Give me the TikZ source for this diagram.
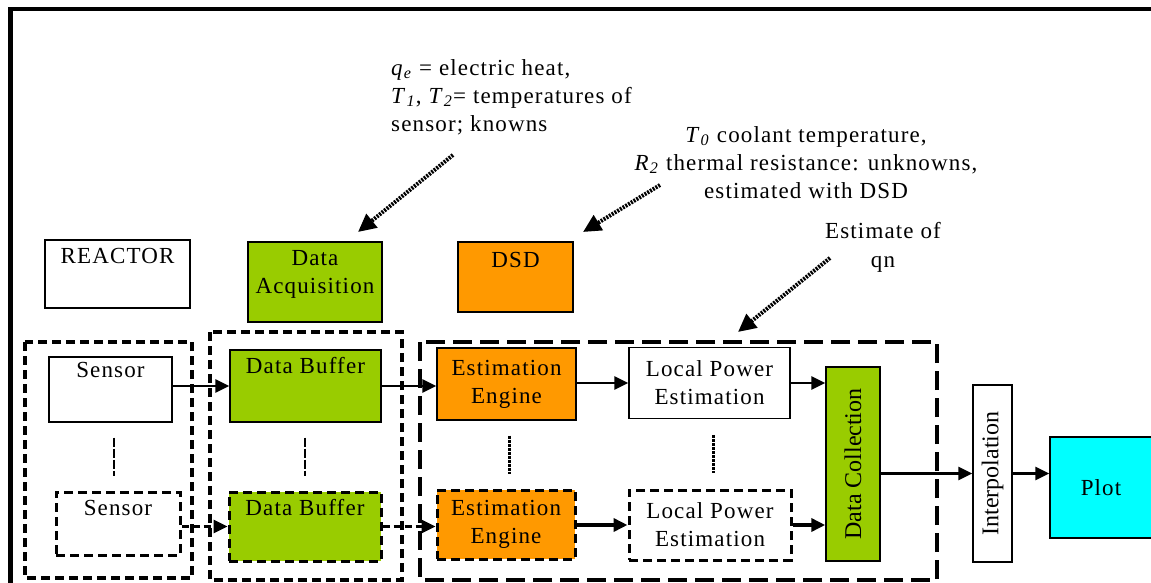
\documentclass[tikz,border=0pt]{standalone}
\usepackage{fontspec}
\setmainfont{Liberation Serif}[LetterSpace=5]
\usepackage{tikz}
\usetikzlibrary{shapes,arrows.meta,positioning,calc}

\definecolor{dgreen}{HTML}{99CC00}
\definecolor{dorange}{HTML}{FF9900}
\definecolor{dcyan}{HTML}{00FFFF}
\newcommand{\vari}[2]{\textit{#1}\textsubscript{\textit{#2}}}

\begin{document}
\begin{tikzpicture}[x=1pt,y=-1pt,
  every node/.style={font=\fontsize{23}{28}\selectfont,align=center,inner sep=3pt},
  box/.style={draw,line width=1.5pt},
  dbox/.style={draw,line width=3pt,dash pattern=on 9pt off 5pt},
  grp/.style={draw,line width=3.5pt,dash pattern=on 9pt off 5pt},
  biggrp/.style={draw,line width=3.5pt,dash pattern=on 19pt off 8pt},
  arr/.style={line width=2.8pt,-{Triangle[length=14pt,width=13pt]}},
  darr/.style={arr,line width=3pt,dash pattern=on 7pt off 4pt},
  vgap/.style={line width=2.2pt,dash pattern=on 9pt off 2pt},
  noteArr/.style={line width=4pt,dash pattern=on 2pt off 1.2pt,-{Triangle[length=18pt,width=17pt]}},
  note/.style={inner sep=0pt}]
\useasboundingbox (0,0) rectangle (1151,583);

% frame
\draw[line width=4.5pt] (10.5,583) -- (10.5,9) -- (1151,9);

% groups
\draw[grp] (25,342) rectangle (192,578);
\draw[grp] (210,332) rectangle (402,580);
\draw[biggrp] (420,342) rectangle (937,580);

% top row
\node[box,minimum width=145pt,minimum height=68pt,text height=20pt,text depth=42pt] (reactor) at (117.5,274) {REACTOR};
\node[box,fill=dgreen,minimum width=134pt,minimum height=80pt,text height=48pt,text depth=26pt] (daq) at (315,282) {Data\\Acquisition};
\node[box,fill=dorange,minimum width=115pt,minimum height=70pt,text height=22pt,text depth=42pt] (dsd) at (515.5,277) {DSD};

% first channel
\node[box,minimum width=123pt,minimum height=65pt,text height=17pt,text depth=42pt] (sensorA) at (110.5,389.5) {Sensor};
\node[box,fill=dgreen,minimum width=151pt,minimum height=72pt,text height=20pt,text depth=46pt] (bufA) at (305.5,386) {Data Buffer};
\node[box,fill=dorange,minimum width=139pt,minimum height=72pt] (engA) at (506.5,384) {Estimation\\Engine};
\node[box,minimum width=161pt,minimum height=71pt] (lpeA) at (709.5,383) {Local Power\\Estimation};

% last channel
\node[dbox,minimum width=124pt,minimum height=63pt,text height=20pt,text depth=37pt] (sensorB) at (118,523.5) {Sensor};
\node[dbox,fill=dgreen,minimum width=152pt,minimum height=69pt,text height=20pt,text depth=43pt] (bufB) at (305,526.5) {Data Buffer};
\node[dbox,fill=dorange,minimum width=138pt,minimum height=69pt] (engB) at (506,524.5) {Estimation\\Engine};
\node[dbox,minimum width=162pt,minimum height=70pt] (lpeB) at (710,525) {Local Power\\Estimation};

% collection and output
\node[box,fill=dgreen,rotate=90,minimum width=194pt,minimum height=54pt,font=\fontsize{24}{28}\selectfont\addfontfeature{LetterSpace=0}] (dcol) at (853,464) {Data Collection};
\node[box,rotate=90,minimum width=177pt,minimum height=39pt,font=\fontsize{24}{28}\selectfont\addfontfeature{LetterSpace=0}] (interp) at (992.5,473.5) {Interpolation};
\node[box,fill=dcyan,minimum width=102pt,minimum height=101pt] (plot) at (1101,487.5) {Plot};

% connectors
\draw[arr] (sensorA.east |- bufA) -- (bufA.west);
\draw[arr] (bufA.east) -- (bufA.east -| engA.west);
\draw[arr] (engA.east |- lpeA) -- (lpeA.west);
\draw[arr] (lpeA.east) -- (lpeA.east -| dcol.north);
\draw[darr] (sensorB.east |- bufB) -- (bufB.west);
\draw[darr] (bufB.east) -- (bufB.east -| engB.west);
\draw[arr,line width=4pt] (engB.east |- lpeB) -- (lpeB.west);
\draw[arr,line width=3.5pt] (lpeB.east) -- (lpeB.east -| dcol.north);
\draw[arr] (dcol.south |- interp) -- (interp.north);
\draw[arr] (interp.south) -- (interp.south -| plot.west);

% channels in between
\draw[vgap] ($(sensorA.south)!.5!(sensorB.north)+(0,-19)$) -- ++(0,38);
\draw[vgap] ($(bufA.south)!.5!(bufB.north)+(0,-19)$) -- ++(0,38);
\draw[vgap,line width=3pt,dash pattern=on 3pt off 1pt] ($(engA.south)!.5!(engB.north)+(3,-19)$) -- ++(0,38);
\draw[vgap,line width=3pt,dash pattern=on 3pt off 1pt] ($(lpeA.south)!.5!(lpeB.north)+(4,-19)$) -- ++(0,38);

% notes
\node[note,anchor=north west,align=left] (known) at (391,59) {\vari{q}{e} = electric heat,\\\vari{T}{1}, \vari{T}{2}= temperatures of\\sensor; knowns};
\node[note,anchor=north] (unknown) at (806,126) {\vari{T}{0} coolant temperature,\\\vari{R}{2} thermal resistance: unknowns,\\estimated with DSD};
\node[note,anchor=north,font=\fontsize{23}{29}\selectfont] (estq) at (883,222) {Estimate of\\qn};

\coordinate (knownA) at (453,155);
\coordinate (knownB) at (358,232);
\coordinate (unknownA) at (660,185);
\coordinate (unknownB) at (583,232);
\coordinate (estqA) at (830,258);
\coordinate (estqB) at (738,332);
\draw[noteArr] (knownA) -- (knownB);
\draw[noteArr] (unknownA) -- (unknownB);
\draw[noteArr] (estqA) -- (estqB);

\end{tikzpicture}
\end{document}
